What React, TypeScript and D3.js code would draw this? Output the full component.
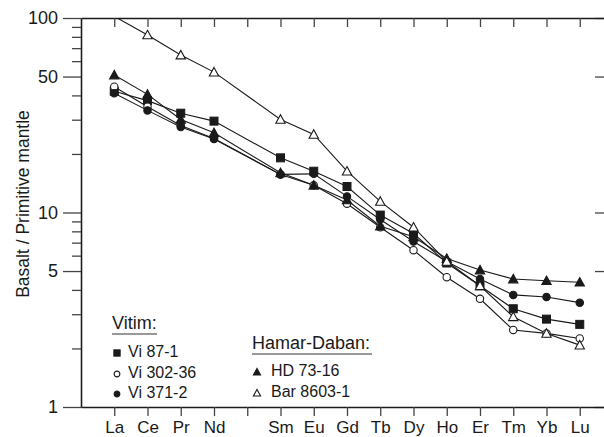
import React, { useEffect, useRef } from "react";
import * as d3 from "d3";

// axis categories (Pm has a tick but no label and no data)
const axisCats = ["La", "Ce", "Pr", "Nd", "Pm", "Sm", "Eu", "Gd", "Tb", "Dy", "Ho", "Er", "Tm", "Yb", "Lu"];
const ree = ["La", "Ce", "Pr", "Nd", "Sm", "Eu", "Gd", "Tb", "Dy", "Ho", "Er", "Tm", "Yb", "Lu"];

const vi87 = [42, 37.6, 32.4, 29.5, 19.1, 16.3, 13.6, 9.7, 7.8, 5.5, 4.2, 3.2, 2.83, 2.66];
const vi302 = [44.3, 35, 28, 24, 15.7, 13.8, 11.1, 8.4, 6.4, 4.65, 3.6, 2.49, 2.39, 2.25];
const vi371 = [41, 33.5, 27.5, 23.9, 15.7, 15.8, 12.1, 9.2, 7.1, 5.6, 4.55, 3.77, 3.68, 3.44];
const hd7316 = [50.9, 40.5, 30.1, 25.7, 16, 13.8, 11.6, 8.5, 7.5, 5.8, 5.06, 4.55, 4.46, 4.38];
const bar8603 = [102, 81.8, 64.5, 52.7, 30.1, 25.2, 16.3, 11.4, 8.4, 5.6, 4.2, 2.91, 2.39, 2.08];

const majorTicks = [1, 5, 10, 50, 100];
const minorTicks = [2, 3, 4, 6, 7, 8, 9, 20, 30, 40, 60, 70, 80, 90];

const series = [
  { name: "Vi 87-1", values: vi87, shape: "square", filled: true },
  { name: "Vi 302-36", values: vi302, shape: "circle", filled: false },
  { name: "Vi 371-2", values: vi371, shape: "circle", filled: true },
  { name: "HD 73-16", values: hd7316, shape: "triangle", filled: true },
  { name: "Bar 8603-1", values: bar8603, shape: "triangle", filled: false },
];

const FONT = "'Liberation Sans', Arial, Helvetica, sans-serif";
const INK = "#1a1a1a";

// draw a marker centred at 0,0
const marker = (g, shape, filled, s) => {
  const fill = filled ? INK : "#fff";
  if (shape === "square") {
    g.append("rect").attr("x", -s / 2).attr("y", -s / 2).attr("width", s).attr("height", s)
      .attr("fill", fill).attr("stroke", INK).attr("stroke-width", 1);
  } else if (shape === "circle") {
    g.append("circle").attr("r", s / 2 - 0.3).attr("fill", fill).attr("stroke", INK).attr("stroke-width", 1.1);
  } else {
    const w = s * 1.1, h = s;
    g.append("path").attr("d", `M0,${-h * 0.55} L${w / 2},${h * 0.45} L${-w / 2},${h * 0.45} Z`)
      .attr("fill", fill).attr("stroke", INK).attr("stroke-width", 1.1).attr("stroke-linejoin", "miter");
  }
};

function App() {
  const ref = useRef(null);

  useEffect(() => {
    const svg = d3.select(ref.current);
    svg.selectAll("*").remove();

    const left = 81, right = 613, top = 18, bottom = 407;

    const x = d3.scalePoint().domain(axisCats).range([left, right]).padding(1);
    const y = d3.scaleLog().domain([1, 100]).range([bottom, top]);

    const styleAxis = (g) => {
      g.select(".domain").attr("stroke", INK).attr("stroke-width", 1.3);
      g.selectAll(".tick line").attr("stroke", "#444").attr("stroke-width", 1.3);
      g.selectAll(".tick text").attr("fill", INK).style("font-family", FONT);
    };

    // left axis
    svg.append("g").attr("transform", `translate(${left},0)`)
      .call(d3.axisLeft(y).tickValues(majorTicks).tickSize(18).tickSizeOuter(0).tickPadding(5).tickFormat(d3.format("d")))
      .call(styleAxis)
      .selectAll(".tick text").style("font-size", "18px");
    svg.append("g").attr("transform", `translate(${left},0)`)
      .call(d3.axisLeft(y).tickValues(minorTicks).tickSize(9).tickSizeOuter(0).tickFormat(() => ""))
      .call(styleAxis);

    // right axis (inward ticks)
    svg.append("g").attr("transform", `translate(${right},0)`)
      .call(d3.axisRight(y).tickValues(majorTicks).tickSize(-18).tickSizeOuter(0).tickFormat(() => ""))
      .call(styleAxis);
    svg.append("g").attr("transform", `translate(${right},0)`)
      .call(d3.axisRight(y).tickValues(minorTicks).tickSize(-9).tickSizeOuter(0).tickFormat(() => ""))
      .call(styleAxis);

    // top axis (inward ticks)
    svg.append("g").attr("transform", `translate(0,${top})`)
      .call(d3.axisTop(x).tickSize(-9).tickSizeOuter(0).tickFormat(() => ""))
      .call(styleAxis);

    // bottom axis
    svg.append("g").attr("transform", `translate(0,${bottom})`)
      .call(d3.axisBottom(x).tickSize(9).tickSizeOuter(0).tickPadding(5).tickFormat((d) => (d === "Pm" ? "" : d)))
      .call(styleAxis)
      .selectAll(".tick text").style("font-size", "17px");

    // y title
    svg.append("text")
      .attr("transform", `translate(29,204) rotate(-90)`)
      .attr("text-anchor", "middle")
      .style("font-family", FONT).style("font-size", "17.5px").attr("fill", INK)
      .text("Basalt / Primitive mantle");

    // clip
    svg.append("clipPath").attr("id", "plotclip")
      .append("rect").attr("x", left).attr("y", top).attr("width", right - left).attr("height", bottom - top);

    const plot = svg.append("g").attr("clip-path", "url(#plotclip)");

    const line = d3.line()
      .x((d, i) => x(ree[i]))
      .y((d) => y(d));

    series.forEach((s) => {
      plot.append("path")
        .datum(s.values)
        .attr("fill", "none")
        .attr("stroke", INK)
        .attr("stroke-width", 1.1)
        .attr("d", line);
    });

    series.forEach((s) => {
      const size = s.shape === "square" ? 8 : s.shape === "circle" ? 8 : 8.5;
      s.values.forEach((v, i) => {
        if (v > 100) return;
        const g = plot.append("g").attr("transform", `translate(${x(ree[i])},${y(v)})`);
        marker(g, s.shape, s.filled, size);
      });
    });

    // legend
    const legend = svg.append("g").style("font-family", FONT).attr("fill", INK);
    const header = (tx, ty, label, w) => {
      legend.append("text").attr("x", tx).attr("y", ty).style("font-size", "18px").text(label);
      legend.append("line").attr("x1", tx).attr("x2", tx + w).attr("y1", ty + 5).attr("y2", ty + 5)
        .attr("stroke", "#777").attr("stroke-width", 1.6);
    };
    header(112, 329, "Vitim:", 45);
    header(252, 349, "Hamar-Daban:", 120);

    const items = [
      { s: series[0], mx: 117, my: 353, tx: 128 },
      { s: series[1], mx: 117, my: 374, tx: 128 },
      { s: series[2], mx: 117, my: 394, tx: 128 },
      { s: series[3], mx: 257, my: 372, tx: 271 },
      { s: series[4], mx: 257, my: 393, tx: 271 },
    ];
    items.forEach((it) => {
      const g = legend.append("g").attr("transform", `translate(${it.mx},${it.my})`);
      marker(g, it.s.shape, it.s.filled, it.s.shape === "triangle" ? 6.5 : 6.3);
      legend.append("text").attr("x", it.tx).attr("y", it.my + 4).style("font-size", "16px").text(it.s.name);
    });
  }, []);

  return (
    <div style={{ position: "absolute", left: 0, top: 0 }}>
      <svg ref={ref} width={604} height={437} style={{ display: "block", background: "#fff" }} />
    </div>
  );
}

export default App;
